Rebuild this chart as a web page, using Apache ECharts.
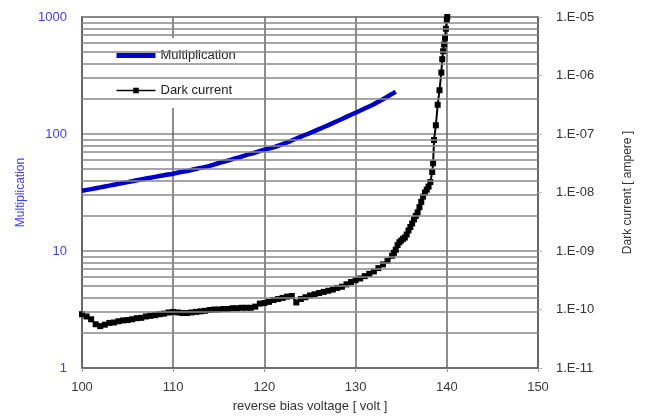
<!DOCTYPE html>
<html>
<head>
<meta charset="utf-8">
<script src="https://cdn.jsdelivr.net/npm/echarts@6/dist/echarts.min.js"></script>
<style>
html,body{margin:0;padding:0;background:#fff;}
#chart{width:646px;height:418px;}
</style>
</head>
<body>
<div id="chart"></div>
<script>
// Multiplication (left axis)
var multV = [100,101,102,103,104,105,106,107,108,109,110,111,112,113,114,115,116,117,118,119,120,121,122,123,124,125,126,127,128,129,130,131,132,133,134,134.4];
var multM = [32.7,33.8,35.0,36.2,37.5,38.8,40.2,41.6,43.0,44.4,45.8,47.5,49.3,51.3,53.4,56.5,59.3,62.5,66.0,69.5,73.5,77,82,88,95,102,110,119,129,140,152,165,180,198,220,230];

// Dark current (right axis, ampere)
var darkV = [100.0,100.5,101.0,101.5,102.0,102.5,103.0,103.5,104.0,104.5,105.0,105.5,106.0,106.5,107.0,107.5,108.0,108.5,109.0,109.5,
  110.0,110.5,111.0,111.5,112.0,112.5,113.0,113.5,114.0,114.5,115.0,115.5,116.0,116.5,117.0,117.5,118.0,118.5,119.0,119.5,
  120.0,120.5,121.0,121.5,122.0,122.5,123.0,123.5,124.0,124.5,125.0,125.5,126.0,126.5,127.0,127.5,128.0,128.5,129.0,129.5,
  130.0,130.5,131.0,131.5,132.0,132.5,133.0,133.5,134.0,
  134.2,134.4,134.6,134.8,135.0,135.2,135.4,135.6,135.8,136.0,136.2,136.4,136.6,136.8,137.0,137.2,137.4,137.6,137.8,138.0,
  138.2,138.4,138.5,138.6,138.8,139.0,139.2,139.4,139.5,139.6,139.7,139.8,139.9,140.0,140.05];
var darkI = [8.3e-11,7.6e-11,6.8e-11,5.6e-11,5.2e-11,5.5e-11,5.9e-11,6.0e-11,6.3e-11,6.5e-11,6.6e-11,6.8e-11,7.1e-11,7.2e-11,7.6e-11,7.8e-11,8.0e-11,8.3e-11,8.5e-11,8.9e-11,
  9.1e-11,8.9e-11,8.7e-11,8.7e-11,8.9e-11,9.1e-11,9.3e-11,9.5e-11,9.8e-11,1.0e-10,1.0e-10,1.02e-10,1.02e-10,1.05e-10,1.05e-10,1.07e-10,1.07e-10,1.07e-10,1.12e-10,1.26e-10,
  1.29e-10,1.35e-10,1.45e-10,1.51e-10,1.58e-10,1.66e-10,1.70e-10,1.32e-10,1.51e-10,1.62e-10,1.74e-10,1.82e-10,1.91e-10,2.0e-10,2.09e-10,2.19e-10,2.34e-10,2.45e-10,2.69e-10,2.95e-10,
  3.16e-10,3.39e-10,3.72e-10,4.07e-10,4.47e-10,5.1e-10,5.9e-10,6.8e-10,8.3e-10,
  9.3e-10,1.05e-9,1.26e-9,1.41e-9,1.51e-9,1.62e-9,1.70e-9,1.91e-9,2.24e-9,2.57e-9,2.95e-9,3.47e-9,3.98e-9,4.57e-9,5.6e-9,6.9e-9,8.5e-9,1.0e-8,1.12e-8,1.26e-8,
  1.51e-8,2.24e-8,3.16e-8,7.9e-8,1.41e-7,3.16e-7,5.6e-7,1.12e-6,1.9e-6,2.6e-6,3.4e-6,4.4e-6,6.3e-6,8.9e-6,1.0e-5];

var xTicks = [100,110,120,130,140,150];
var leftTicks = ['1','10','100','1000'];
var rightTicks = ['1.E-11','1.E-10','1.E-09','1.E-08','1.E-07','1.E-06','1.E-05'];
// minor log grid lines of the left axis
var minorGrid = [2,3,4,5,6,7,8,9,20,30,40,50,60,70,80,90,200,300,400,500,600,700,800,900];

var FONT = '"Liberation Sans", Arial, sans-serif';
var GRID = '#888888';

function pairs(a, b) { return a.map(function (v, i) { return [v, b[i]]; }); }

var chart = echarts.init(document.getElementById('chart'));
chart.setOption({
  animation: false,
  textStyle: { fontFamily: FONT },
  grid: { left: 82, right: 108, top: 17, bottom: 45, show: true, borderColor: '#666', borderWidth: 1.5, backgroundColor: 'transparent' },
  legend: {
    data: [
      { name: 'Multiplication', itemStyle: { opacity: 0 }, lineStyle: { width: 5, color: '#0000cc' } },
      { name: 'Dark current', lineStyle: { width: 1.5, color: '#000' } }
    ],
    orient: 'vertical',
    left: 106, top: 38,
    padding: [10, 8, 10, 8],
    itemGap: 20,
    itemWidth: 39, itemHeight: 7,
    backgroundColor: '#fff',
    textStyle: { fontFamily: FONT, fontSize: 13, color: '#222', lineHeight: 15 }
  },
  xAxis: {
    type: 'value', min: 100, max: 150, interval: 10,
    name: 'reverse bias voltage [ volt ]', nameLocation: 'middle', nameGap: 32,
    nameTextStyle: { fontFamily: FONT, fontSize: 13, color: '#333' },
    axisLine: { lineStyle: { color: '#666', width: 1.5 } },
    axisTick: { show: true, length: 4, lineStyle: { color: '#999' } },
    axisLabel: { fontFamily: FONT, fontSize: 13, color: '#3a3a3a', margin: 13,
      formatter: function (v) { return String(xTicks[Math.round((v - 100) / 10)]); } },
    splitLine: { show: true, lineStyle: { color: '#666', width: 1.5 } }
  },
  yAxis: [{
    type: 'log', logBase: 10, min: 1, max: 1000, interval: 1,
    name: 'Multiplication', nameLocation: 'middle', nameGap: 53, nameRotate: 90,
    nameTextStyle: { fontFamily: FONT, fontSize: 12, color: '#3b3bff' },
    axisLine: { show: true, lineStyle: { color: '#666', width: 1.5 } },
    axisTick: { show: false },
    axisLabel: { fontFamily: FONT, fontSize: 13, color: '#3b3bff', margin: 15,
      formatter: function (v) { return leftTicks[Math.round(Math.log10(v))]; } },
    splitLine: { show: true, lineStyle: { color: GRID, width: 1.5 } }
  }, {
    type: 'log', logBase: 10, min: 1e-11, max: 1e-5, interval: 1,
    name: 'Dark current [ ampere ]', nameLocation: 'middle', nameGap: 84, nameRotate: 90,
    nameTextStyle: { fontFamily: FONT, fontSize: 12, color: '#333' },
    axisLine: { show: true, lineStyle: { color: '#666', width: 1.5 } },
    axisTick: { show: true, length: 4, lineStyle: { color: '#bbb' } },
    axisLabel: {
      fontFamily: FONT, fontSize: 13, color: '#333', margin: 18,
      formatter: function (v) { return rightTicks[Math.round(Math.log10(v)) + 11]; }
    },
    splitLine: { show: false }
  }],
  series: [{
    name: 'grid', type: 'line', yAxisIndex: 0, data: [], silent: true, z: 1,
    markLine: {
      silent: true, symbol: ['none', 'none'], label: { show: false },
      lineStyle: { color: GRID, width: 1.5, type: 'solid' },
      emphasis: { disabled: true },
      data: minorGrid.map(function (v) { return { yAxis: v }; })
    }
  }, {
    name: 'Multiplication', type: 'line', yAxisIndex: 0, z: 3,
    data: pairs(multV, multM), smooth: true, showSymbol: false, symbol: 'none',
    lineStyle: { color: '#0000cc', width: 4.5 }, itemStyle: { color: '#0000cc' }
  }, {
    name: 'Dark current', type: 'line', yAxisIndex: 1, z: 3,
    data: pairs(darkV, darkI), symbol: 'rect', symbolSize: 6,
    lineStyle: { color: '#000', width: 2 }, itemStyle: { color: '#000' }
  }]
});
</script>
</body>
</html>
